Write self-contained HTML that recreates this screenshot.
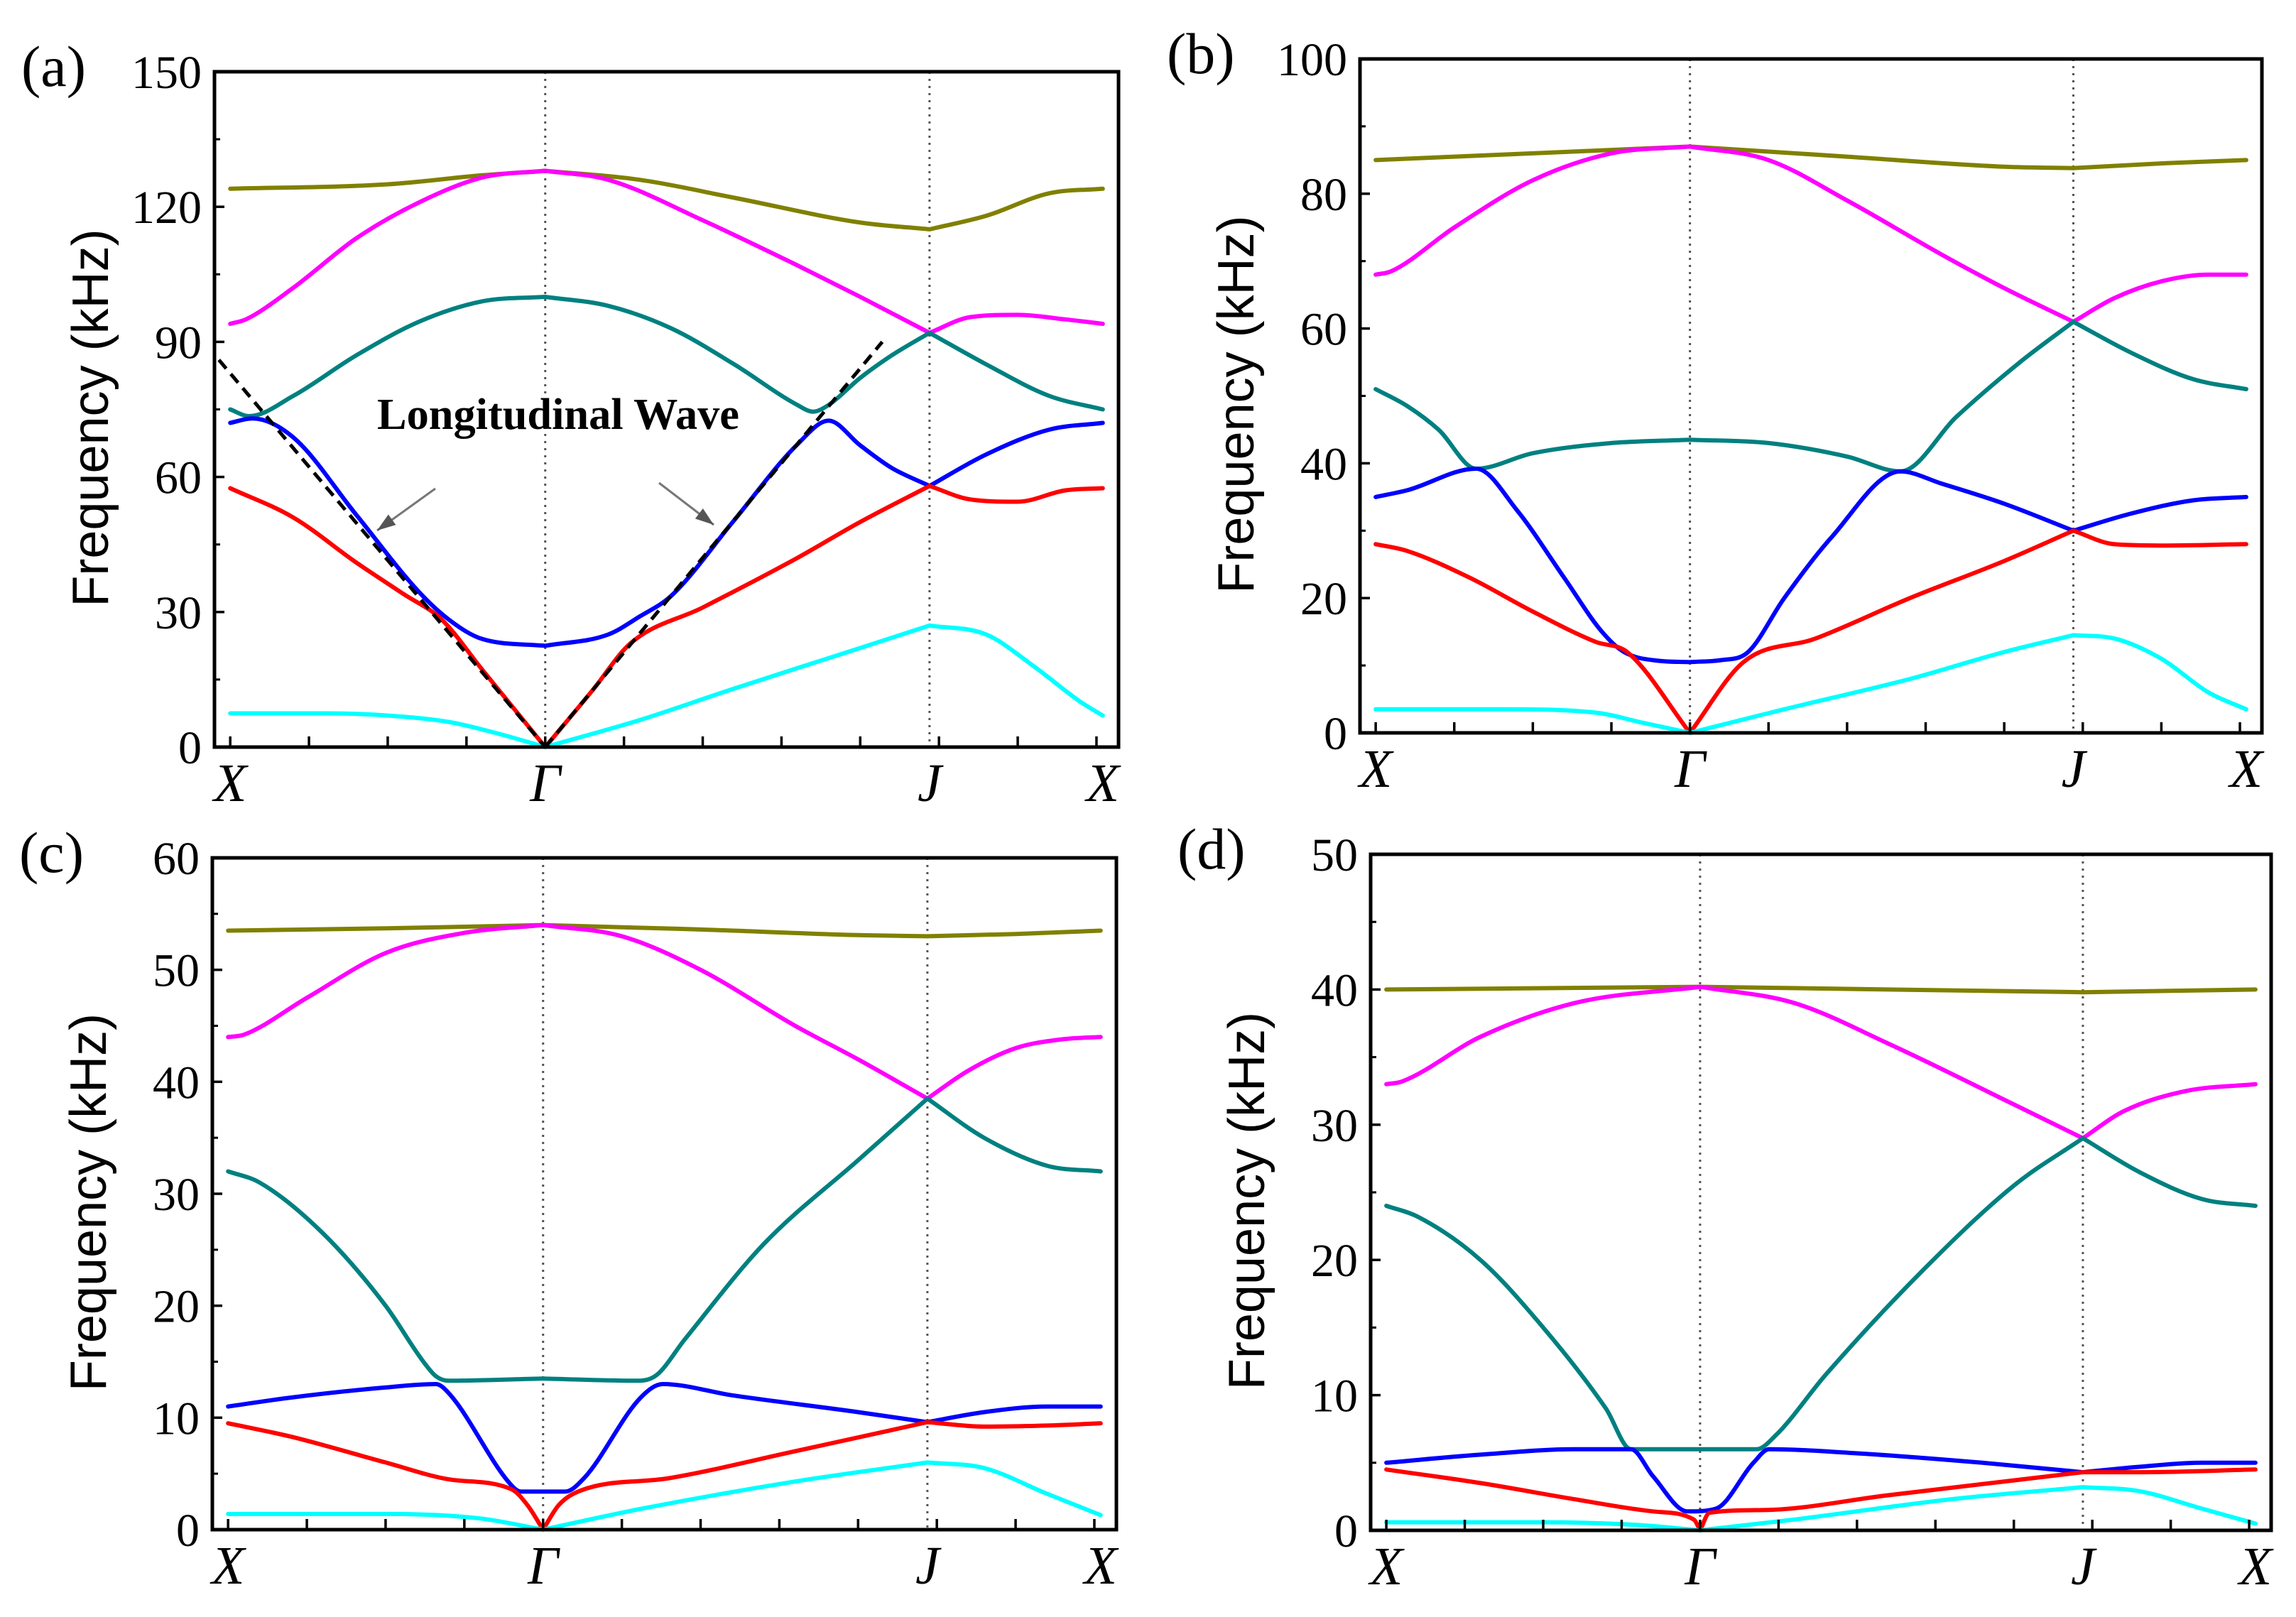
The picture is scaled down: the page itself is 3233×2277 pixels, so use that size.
<!DOCTYPE html>
<html><head><meta charset="utf-8"><style>
html,body{margin:0;padding:0;background:#fff;}
svg{display:block;}
</style></head><body>
<svg id="fig" width="3233" height="2277" viewBox="0 0 3233 2277" xmlns="http://www.w3.org/2000/svg">
<rect width="3233" height="2277" fill="#fff"/>
</svg>
<script>
// ---- data: k path X=0, Γ=1, J=2.22, X=2.77 ----
const symK = [0, 1, 2.22, 2.77];
const symLabels = ["X", "Γ", "J", "X"];
const xTicks = [0,0.25,0.5,0.75,1,1.25,1.5,1.75,2,2.25,2.5,2.75];
const bandNames = ["olive","magenta","teal","blue","red","cyan"];
const bandColors = ["#808000","#ff00ff","#008080","#0000ff","#ff0000","#00ffff"];

const yTicksA = [0,30,60,90,120,150];
const a_olive = [[0,124],[0.5,125],[0.8,127],[1,128],[1.3,126],[1.6,122],[2,116.5],[2.22,115],[2.4,118],[2.6,123],[2.77,124]];
const a_magenta = [[0,94],[0.05,95],[0.2,102],[0.4,113],[0.6,121],[0.8,126.5],[1,128],[1.2,126],[1.5,117],[1.8,107],[2.0,100],[2.22,92],[2.35,95.5],[2.5,96],[2.65,95],[2.77,94]];
const a_teal = [[0,75],[0.06,73.5],[0.2,78],[0.4,87],[0.6,94.5],[0.8,99],[1,100],[1.2,98],[1.4,93],[1.6,85],[1.8,76],[1.85,74.5],[1.9,76],[2.0,82],[2.1,87],[2.22,92],[2.4,85],[2.6,78],[2.77,75]];
const a_blue = [[0,72],[0.07,73],[0.2,68.8],[0.4,51.6],[0.6,34.4],[0.7,28],[0.8,24],[1,22.5],[1.2,25],[1.3,29],[1.4,33.6],[1.6,50.4],[1.8,67.2],[1.9,72.5],[2.0,67],[2.1,62],[2.22,58],[2.4,65],[2.6,70.5],[2.77,72]];
const a_red = [[0,57.5],[0.2,51],[0.4,41],[0.55,34],[0.67,28.4],[0.8,17.2],[1,0],[1.15,12.6],[1.27,23],[1.5,31],[1.8,42],[2.0,50],[2.22,58],[2.35,55],[2.5,54.5],[2.65,57],[2.77,57.5]];
const a_cyan = [[0,7.5],[0.3,7.5],[0.5,7],[0.7,5.5],[0.85,3],[1,0],[1.3,6],[1.6,13],[2.0,22],[2.22,27],[2.4,25],[2.55,18],[2.7,10],[2.77,7]];
const a_dashLeft = [[-0.036,86],[1,0]];
const a_dashRight = [[1,0],[2.07,90]];

const yTicksB = [0,20,40,60,80,100];
const b_olive = [[0,85],[0.5,86],[1,87],[1.5,85.5],[2.0,84],[2.22,83.8],[2.5,84.5],[2.77,85]];
const b_magenta = [[0,68],[0.05,68.5],[0.25,75],[0.5,82],[0.75,86],[1,87],[1.25,85],[1.5,79],[1.8,71],[2.0,66],[2.22,61],[2.35,64.5],[2.5,67],[2.65,68],[2.77,68]];
const b_teal = [[0,51],[0.1,48.5],[0.2,45],[0.32,39.2],[0.5,41.5],[0.75,43],[1,43.5],[1.25,43],[1.5,41],[1.67,38.8],[1.85,47],[2.05,55],[2.22,61],[2.4,56.5],[2.6,52.5],[2.77,51]];
const b_blue = [[0,35],[0.1,36],[0.32,39.2],[0.45,33],[0.6,23],[0.72,15],[0.79,12],[0.9,10.7],[1,10.5],[1.1,10.8],[1.18,11.8],[1.3,20],[1.45,29],[1.67,38.8],[1.8,37],[2.0,34],[2.22,30],[2.4,32.5],[2.6,34.5],[2.77,35]];
const b_red = [[0,28],[0.1,27],[0.3,23],[0.5,18],[0.7,13.5],[0.8,12],[1,0],[1.17,10.5],[1.4,14],[1.7,20],[2.0,25.5],[2.22,30],[2.35,28],[2.5,27.8],[2.77,28]];
const b_cyan = [[0,3.5],[0.4,3.5],[0.7,3],[0.85,1.5],[1,0],[1.3,3.5],[1.7,8],[2.0,12],[2.22,14.5],[2.35,14],[2.5,11],[2.65,6],[2.77,3.5]];

const yTicksC = [0,10,20,30,40,50,60];
const c_olive = [[0,53.5],[0.5,53.7],[1,54],[1.5,53.6],[2.0,53.1],[2.22,53],[2.5,53.2],[2.77,53.5]];
const c_magenta = [[0,44],[0.05,44.2],[0.25,47.5],[0.5,51.5],[0.75,53.3],[1,54],[1.25,53],[1.5,50],[1.8,45],[2.0,42],[2.22,38.5],[2.35,41],[2.5,43],[2.65,43.8],[2.77,44]];
const c_teal = [[0,32],[0.1,31],[0.3,26.5],[0.5,20],[0.62,15],[0.66,13.7],[0.7,13.3],[1,13.5],[1.3,13.3],[1.36,13.8],[1.45,17],[1.7,25.5],[2.0,33],[2.22,38.5],[2.4,35],[2.6,32.5],[2.77,32]];
const c_blue = [[0,11],[0.2,11.8],[0.5,12.7],[0.66,13],[0.7,12.2],[0.905,3.8],[0.93,3.4],[1.07,3.4],[1.13,4.6],[1.31,11.8],[1.38,13],[1.6,12],[2.0,10.5],[2.22,9.6],[2.4,10.5],[2.6,11],[2.77,11]];
const c_red = [[0,9.5],[0.2,8.3],[0.5,6],[0.7,4.5],[0.9,3.6],[0.95,2.2],[1,0],[1.05,2.2],[1.12,3.5],[1.4,4.6],[1.8,7],[2.22,9.6],[2.4,9.2],[2.6,9.3],[2.77,9.5]];
const c_cyan = [[0,1.4],[0.5,1.4],[0.8,1],[1,0],[1.3,1.8],[1.8,4.3],[2.22,6],[2.4,5.5],[2.6,3.2],[2.77,1.3]];

const yTicksD = [0,10,20,30,40,50];
const d_olive = [[0,40],[1,40.2],[2.22,39.8],[2.77,40]];
const d_magenta = [[0,33],[0.05,33.2],[0.3,36.5],[0.6,39],[1,40.2],[1.3,39],[1.6,36],[2.0,31.5],[2.22,29],[2.35,31],[2.55,32.5],[2.77,33]];
const d_teal = [[0,24],[0.1,23.2],[0.3,20],[0.5,15],[0.7,9],[0.78,6],[1,6],[1.18,6],[1.24,7],[1.4,11.5],[1.7,19],[2.0,25.5],[2.22,29],[2.4,26.5],[2.6,24.5],[2.77,24]];
const d_blue = [[0,5],[0.3,5.6],[0.6,6],[0.78,6],[0.85,4],[0.96,1.4],[1.05,1.6],[1.17,5],[1.22,6],[1.5,5.7],[1.9,5],[2.22,4.3],[2.4,4.7],[2.6,5],[2.77,5]];
const d_red = [[0,4.5],[0.3,3.5],[0.6,2.3],[0.85,1.4],[0.98,0.8],[1,0],[1.03,1.3],[1.2,1.5],[1.6,2.6],[2.0,3.7],[2.22,4.3],[2.4,4.3],[2.77,4.5]];
const d_cyan = [[0,0.6],[0.5,0.6],[0.8,0.4],[1,0],[1.3,0.8],[1.8,2.3],[2.22,3.2],[2.4,2.9],[2.6,1.6],[2.77,0.5]];

const NS = "http://www.w3.org/2000/svg";
const svg = document.getElementById('fig');
function mk(tag, attrs, parent){
  const e = document.createElementNS(NS, tag);
  for (const k in attrs) e.setAttribute(k, attrs[k]);
  (parent||svg).appendChild(e);
  return e;
}

// monotone cubic (Fritsch-Carlson) path in pixel space, broken at Γ and J
function smoothPath(pts, xs, ys){
  const segs = [];
  let cur = [pts[0]];
  for (let i = 1; i < pts.length; i++) {
    cur.push(pts[i]);
    const k = pts[i][0];
    if ((Math.abs(k - 1) < 1e-6 || Math.abs(k - 2.22) < 1e-6) && i < pts.length - 1) {
      segs.push(cur); cur = [pts[i]];
    }
  }
  segs.push(cur);
  let d = '';
  segs.forEach((s, si) => {
    const X = s.map(p => xs(p[0])), Y = s.map(p => ys(p[1]));
    const n = X.length;
    d += (si ? ' L' : 'M') + X[0].toFixed(1) + ',' + Y[0].toFixed(1);
    if (n < 3) { for (let i = 1; i < n; i++) d += ' L' + X[i].toFixed(1) + ',' + Y[i].toFixed(1); return; }
    const dl = [], m = [];
    for (let i = 0; i < n - 1; i++) dl.push((Y[i+1] - Y[i]) / (X[i+1] - X[i]));
    m[0] = dl[0]; m[n-1] = dl[n-2];
    for (let i = 1; i < n - 1; i++) m[i] = (dl[i-1] * dl[i] <= 0) ? 0 : (dl[i-1] + dl[i]) / 2;
    for (let i = 0; i < n - 1; i++) {
      if (dl[i] === 0) { m[i] = 0; m[i+1] = 0; continue; }
      const a = m[i] / dl[i], b = m[i+1] / dl[i], h = a*a + b*b;
      if (h > 9) { const t = 3 / Math.sqrt(h); m[i] = t*a*dl[i]; m[i+1] = t*b*dl[i]; }
    }
    for (let i = 0; i < n - 1; i++) {
      const h = (X[i+1] - X[i]) / 3;
      d += ' C' + (X[i]+h).toFixed(1) + ',' + (Y[i]+m[i]*h).toFixed(1) + ' ' + (X[i+1]-h).toFixed(1) + ',' + (Y[i+1]-m[i+1]*h).toFixed(1) + ' ' + X[i+1].toFixed(1) + ',' + Y[i+1].toFixed(1);
    }
  });
  return d;
}

function panel(id, label, box, yTicks, bands, extra){
  const g = mk('g', {});
  
  
  const kMin = -0.05, kMax = 2.82;
  const yMax = yTicks[yTicks.length-1];
  const xs = k => box.l + (k - kMin) / (kMax - kMin) * (box.r - box.l);
  const ys = f => box.b - f / yMax * (box.b - box.t);
  [1, 2.22].forEach((k, i) => {
    const ln = mk('line', {x1: xs(k), x2: xs(k), y1: box.t, y2: box.b, stroke: '#555', 'stroke-width': 3, 'stroke-dasharray': '3,7'}, g);
    
    
  });
  bands.forEach((pts, i) => {
    const path = mk('path', {d: smoothPath(pts, xs, ys), fill: 'none', stroke: bandColors[i], 'stroke-width': 6, 'stroke-linejoin': 'round', 'stroke-linecap': 'round'}, g);
    
    
  });
  if (extra) extra(g, xs, ys);
  const fr = mk('rect', {x: box.l, y: box.t, width: box.r - box.l, height: box.b - box.t, fill: 'none', stroke: '#000', 'stroke-width': 5}, g);
  
  
  const step = yTicks[1] - yTicks[0];
  yTicks.forEach((v, i) => {
    const y = ys(v);
    const t = mk('line', {x1: box.l, x2: box.l + 14, y1: y, y2: y, stroke: '#000', 'stroke-width': 3.5}, g);
    
    
    if (i < yTicks.length - 1) {
      const ym = ys(v + step/2);
      const tm = mk('line', {x1: box.l, x2: box.l + 8, y1: ym, y2: ym, stroke: '#000', 'stroke-width': 3}, g);
      
      
    }
    const tx = mk('text', {x: box.l - 18, y: y + 23, 'text-anchor': 'end', 'font-family': '"Liberation Serif", serif', 'font-size': 66, fill: '#000'}, g);
    tx.textContent = v;
    
    
  });
  xTicks.forEach(k => {
    const t = mk('line', {x1: xs(k), x2: xs(k), y1: box.b, y2: box.b - 15, stroke: '#000', 'stroke-width': 3.5}, g);
    
    
  });
  symK.forEach((k, i) => {
    const tx = mk('text', {x: xs(k), y: box.b + 76, 'text-anchor': 'middle', 'font-family': '"Liberation Serif", serif', 'font-style': 'italic', 'font-size': 76, fill: '#000'}, g);
    tx.textContent = symLabels[i];
    
    
  });
  const cy = (box.t + box.b) / 2 + 12;
  const yt = mk('text', {x: 0, y: 0, transform: 'translate(' + (box.l - 150) + ',' + cy + ') rotate(-90)', 'text-anchor': 'middle', 'font-family': '"Liberation Sans", sans-serif', 'font-size': 72, fill: '#000'}, g);
  yt.textContent = 'Frequency (kHz)';
  
  
  const pl = mk('text', {x: box.l - 272, y: box.t + 20, 'font-family': '"Liberation Serif", serif', 'font-size': 82, fill: '#000'}, g);
  pl.textContent = label;
  
  
}

panel('a', '(a)', {l: 302, r: 1575, t: 101, b: 1052}, yTicksA,
  [a_olive, a_magenta, a_teal, a_blue, a_red, a_cyan],
  function(g, xs, ys){
    [a_dashLeft, a_dashRight].forEach((pts, i) => {
      const l = mk('line', {x1: xs(pts[0][0]), y1: ys(pts[0][1]), x2: xs(pts[1][0]), y2: ys(pts[1][1]), stroke: '#000', 'stroke-width': 5, 'stroke-dasharray': '16,10'}, g);
      
      
    });
    const t = mk('text', {x: 531, y: 604, 'font-family': '"Liberation Serif", serif', 'font-weight': 'bold', 'font-size': 62, textLength: 510, lengthAdjust: 'spacingAndGlyphs', fill: '#000'}, g);
    t.textContent = 'Longitudinal Wave';
    
    
    [[613,688,531,747],[928,680,1005,739]].forEach((a, i) => {
      const l = mk('line', {x1: a[0], y1: a[1], x2: a[2], y2: a[3], stroke: '#777', 'stroke-width': 3}, g);
      
      
      const ang = Math.atan2(a[3]-a[1], a[2]-a[0]);
      const L = 26, W = 9;
      const bx = a[2] - L*Math.cos(ang), by = a[3] - L*Math.sin(ang);
      const p = mk('polygon', {points: a[2]+','+a[3]+' '+(bx - W*Math.sin(ang))+','+(by + W*Math.cos(ang))+' '+(bx + W*Math.sin(ang))+','+(by - W*Math.cos(ang)), fill: '#555'}, g);
      
      
    });
  });
panel('b', '(b)', {l: 1915, r: 3185, t: 83, b: 1032}, yTicksB,
  [b_olive, b_magenta, b_teal, b_blue, b_red, b_cyan]);
panel('c', '(c)', {l: 299, r: 1572, t: 1208, b: 2154}, yTicksC,
  [c_olive, c_magenta, c_teal, c_blue, c_red, c_cyan]);
panel('d', '(d)', {l: 1930, r: 3198, t: 1203, b: 2155}, yTicksD,
  [d_olive, d_magenta, d_teal, d_blue, d_red, d_cyan]);
</script>
</body></html>
